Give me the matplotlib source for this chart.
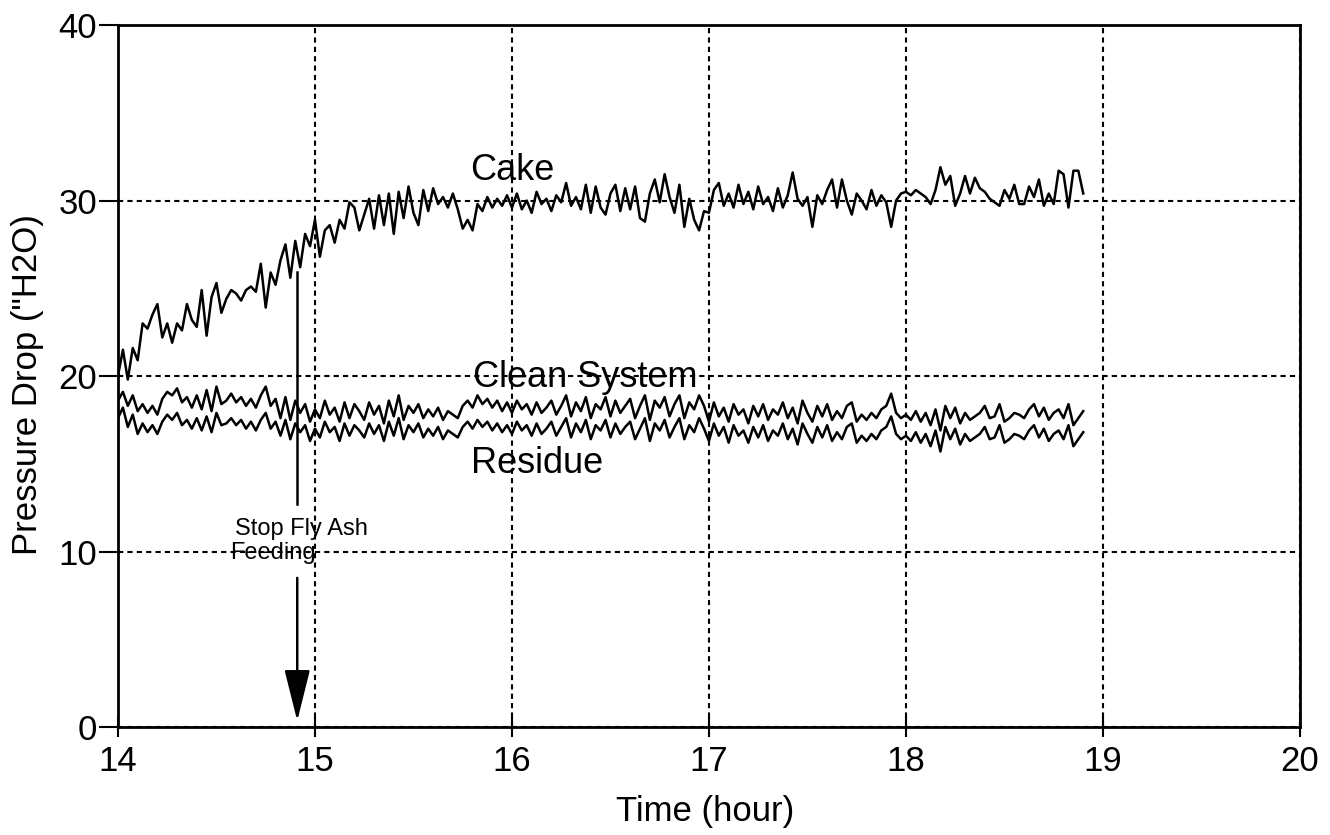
import numpy as np
import matplotlib
matplotlib.use('Agg')
import matplotlib.pyplot as plt

plt.rcParams['font.family'] = ['Liberation Sans', 'DejaVu Sans']

# Pressure drop readings ("H2O), sampled every 0.025 h from 14.0 to 18.9 h
cake = [
    20.0, 21.5, 19.8, 21.6, 20.9, 23.0, 22.7, 23.5,
    24.1, 22.2, 23.0, 21.9, 23.0, 22.6, 24.1, 23.2,
    22.8, 24.9, 22.3, 24.5, 25.3, 23.6, 24.4, 24.9,
    24.7, 24.3, 24.9, 25.1, 24.8, 26.4, 23.9, 25.9,
    25.2, 26.6, 27.5, 25.6, 27.7, 26.2, 28.1, 27.4,
    28.9, 26.8, 28.3, 28.6, 27.6, 28.9, 28.4, 29.9,
    29.6, 28.3, 29.2, 30.1, 28.4, 30.3, 28.6, 30.4,
    28.1, 30.5, 29.0, 30.8, 29.3, 28.6, 30.6, 29.4,
    30.7, 29.8, 30.2, 29.6, 30.4, 29.5, 28.4, 28.9,
    28.3, 29.8, 29.4, 30.2, 29.6, 30.1, 29.7, 30.3,
    29.6, 30.4, 29.5, 30.0, 29.3, 30.5, 29.8, 30.1,
    29.4, 30.3, 29.9, 31.0, 29.7, 30.2, 29.5, 30.9,
    29.3, 30.8, 29.6, 29.2, 30.4, 30.9, 29.4, 30.7,
    29.5, 30.8, 29.0, 28.8, 30.4, 31.2, 29.9, 31.5,
    30.2, 29.3, 30.9, 28.5, 30.1, 28.9, 28.3, 29.4,
    29.3, 30.6, 31.0, 29.7, 30.4, 29.6, 30.9, 29.8,
    30.5, 29.5, 30.8, 29.8, 30.2, 29.4, 30.7, 29.6,
    30.3, 31.6, 30.1, 29.7, 30.2, 28.5, 30.3, 29.8,
    30.6, 31.2, 29.6, 31.2, 30.0, 29.2, 30.4, 30.0,
    29.5, 30.6, 29.7, 30.3, 29.9, 28.5, 30.0, 30.4,
    30.5, 30.3, 30.6, 30.4, 30.2, 29.8, 30.6, 31.9,
    30.9, 31.4, 29.7, 30.4, 31.4, 30.4, 31.3, 30.7,
    30.5, 30.1, 29.9, 29.7, 30.6, 30.1, 30.9, 29.8,
    29.8, 30.8, 30.2, 31.2, 29.7, 30.4, 29.8, 31.7,
    31.5, 29.6, 31.7, 31.7, 30.4,
]

clean_system = [
    18.6, 19.1, 18.3, 18.9, 18.0, 18.4, 17.9, 18.3,
    17.8, 18.7, 19.1, 18.9, 19.3, 18.5, 18.8, 18.2,
    18.9, 18.1, 19.2, 18.0, 19.4, 18.4, 18.6, 19.0,
    18.5, 18.8, 18.3, 18.7, 18.2, 18.9, 19.4, 18.3,
    18.7, 17.6, 18.8, 17.5, 18.6, 17.9, 18.4, 17.4,
    18.1, 17.6, 18.6, 17.8, 18.2, 17.4, 18.5, 17.6,
    18.4, 18.0, 17.5, 18.5, 17.8, 18.3, 17.3, 18.6,
    17.7, 18.9, 17.5, 18.3, 17.9, 18.4, 17.6, 18.1,
    17.7, 18.2, 17.5, 18.0, 17.8, 17.6, 18.3, 18.6,
    18.2, 18.9, 18.4, 18.7, 18.2, 18.6, 18.0, 18.5,
    17.9, 18.6, 18.1, 18.4, 17.8, 18.5, 17.9, 18.2,
    18.6, 17.8, 18.3, 18.9, 17.7, 18.5, 18.0, 18.8,
    17.6, 18.4, 18.1, 18.8, 17.7, 18.6, 17.9, 18.3,
    18.7, 17.6, 18.3, 18.9, 17.5, 18.6, 18.2, 18.8,
    17.7, 18.4, 18.9, 17.6, 18.5, 18.1, 18.9, 18.3,
    17.4, 18.5, 17.7, 18.2, 17.4, 18.4, 17.8, 18.1,
    17.3, 18.3, 17.7, 18.4, 17.5, 18.1, 17.8, 18.5,
    17.6, 18.2, 17.3, 18.6, 17.9, 17.4, 18.3, 17.7,
    18.4, 17.5, 18.0, 17.6, 18.3, 18.5, 17.4, 17.8,
    17.5, 17.9, 17.6, 18.1, 18.3, 19.0, 17.9, 17.6,
    17.8, 17.5, 18.0, 17.4, 17.9, 17.2, 18.1, 16.9,
    18.3, 17.6, 18.2, 17.3, 17.9, 17.5, 17.7, 17.9,
    18.3, 17.6, 17.7, 18.4, 17.4, 17.6, 17.9, 17.8,
    17.6, 18.1, 18.4, 17.7, 18.2, 17.5, 17.9, 18.1,
    17.6, 18.4, 17.2, 17.6, 18.0,
]

residue = [
    17.6, 18.2, 17.1, 17.8, 16.7, 17.3, 16.8, 17.2,
    16.7, 17.4, 17.8, 17.5, 17.9, 17.2, 17.5, 17.0,
    17.6, 16.9, 17.7, 16.8, 17.9, 17.2, 17.3, 17.6,
    17.2, 17.5, 17.0, 17.4, 16.9, 17.5, 17.9, 17.0,
    17.4, 16.6, 17.5, 16.4, 17.3, 16.8, 17.2, 16.3,
    17.0, 16.5, 17.4, 16.8, 17.1, 16.3, 17.3, 16.6,
    17.2, 16.9, 16.5, 17.3, 16.7, 17.2, 16.3, 17.4,
    16.6, 17.6, 16.4, 17.2, 16.8, 17.3, 16.5, 17.0,
    16.6, 17.1, 16.4, 16.9, 16.7, 16.5, 17.1, 17.4,
    17.0, 17.5, 17.1, 17.4, 16.9, 17.3, 16.8, 17.2,
    16.7, 17.4, 16.9, 17.2, 16.6, 17.3, 16.7, 17.0,
    17.4, 16.6, 17.1, 17.6, 16.5, 17.3, 16.8, 17.5,
    16.4, 17.2, 16.9, 17.5, 16.5, 17.3, 16.7, 17.1,
    17.4, 16.4, 17.0, 17.6, 16.3, 17.3, 16.9, 17.5,
    16.5, 17.1, 17.6, 16.4, 17.2, 16.8, 17.6, 17.0,
    16.3, 17.3, 16.6, 17.1, 16.2, 17.2, 16.6, 16.9,
    16.2, 17.1, 16.5, 17.2, 16.3, 16.9, 16.6, 17.3,
    16.4, 17.0, 16.1, 17.3, 16.7, 16.2, 17.1, 16.5,
    17.2, 16.3, 16.8, 16.4, 17.1, 17.3, 16.2, 16.6,
    16.3, 16.7, 16.4, 16.9, 17.1, 17.7, 16.7, 16.4,
    16.6, 16.3, 16.8, 16.2, 16.7, 16.0, 16.9, 15.7,
    17.1, 16.4, 17.0, 16.1, 16.7, 16.3, 16.5, 16.7,
    17.1, 16.4, 16.5, 17.2, 16.2, 16.4, 16.7, 16.6,
    16.4, 16.9, 17.2, 16.5, 17.0, 16.3, 16.7, 16.9,
    16.4, 17.2, 16.0, 16.4, 16.8,
]

t_start, t_end = 14.0, 18.9
x_ticks = [14, 15, 16, 17, 18, 19, 20]
y_ticks = [0, 10, 20, 30, 40]

# fly ash feeding stopped here
stop_time = 14.91

fig = plt.figure(figsize=(13.3, 8.35), dpi=100)
ax = fig.add_axes([0.0887, 0.1293, 0.8887, 0.8407])

for series in (cake, clean_system, residue):
    t = np.linspace(t_start, t_end, len(series))
    ax.plot(t, series, color='black', lw=1.8)

ax.set_xlim(14, 20)
ax.set_ylim(0, 40)
ax.set_xticks(x_ticks)
ax.set_yticks(y_ticks)
ax.grid(True, color='black', linestyle=(0, (2.5, 2)), lw=1.5)

for s in ax.spines.values():
    s.set_linewidth(2)

ax.tick_params(axis='x', direction='inout', length=14, width=1.5, labelsize=25, pad=6)
ax.tick_params(axis='y', direction='out', length=14, width=1.5, labelsize=25, pad=1)

# labels
fig.text(28 / 1330, 1 - 385 / 835, 'Pressure Drop ("H2O)', rotation=90,
         ha='center', va='center', fontsize=25)
fig.text(705 / 1330, 1 - 811 / 835, 'Time (hour)', ha='center', va='center', fontsize=25)

ax.text(15.79, 31.7, 'Cake', fontsize=26, va='center', ha='left')
ax.text(15.80, 19.9, 'Clean System', fontsize=26, va='center', ha='left')
ax.text(15.79, 15.0, 'Residue', fontsize=26, va='center', ha='left')

ax.text(14.595, 11.3, 'Stop Fly Ash', fontsize=17, va='center', ha='left')
ax.text(14.57, 9.9, 'Feeding', fontsize=17, va='center', ha='left')

ax.plot([stop_time, stop_time], [25.9, 12.7], color='black', lw=1.8)
ax.annotate('', xy=(stop_time, 0.35), xytext=(stop_time, 8.5),
            arrowprops=dict(arrowstyle='-|>,head_length=3.2,head_width=0.8',
                            color='black', lw=1.8, shrinkA=0, shrinkB=0))

fig.savefig('out.png', dpi=100)
